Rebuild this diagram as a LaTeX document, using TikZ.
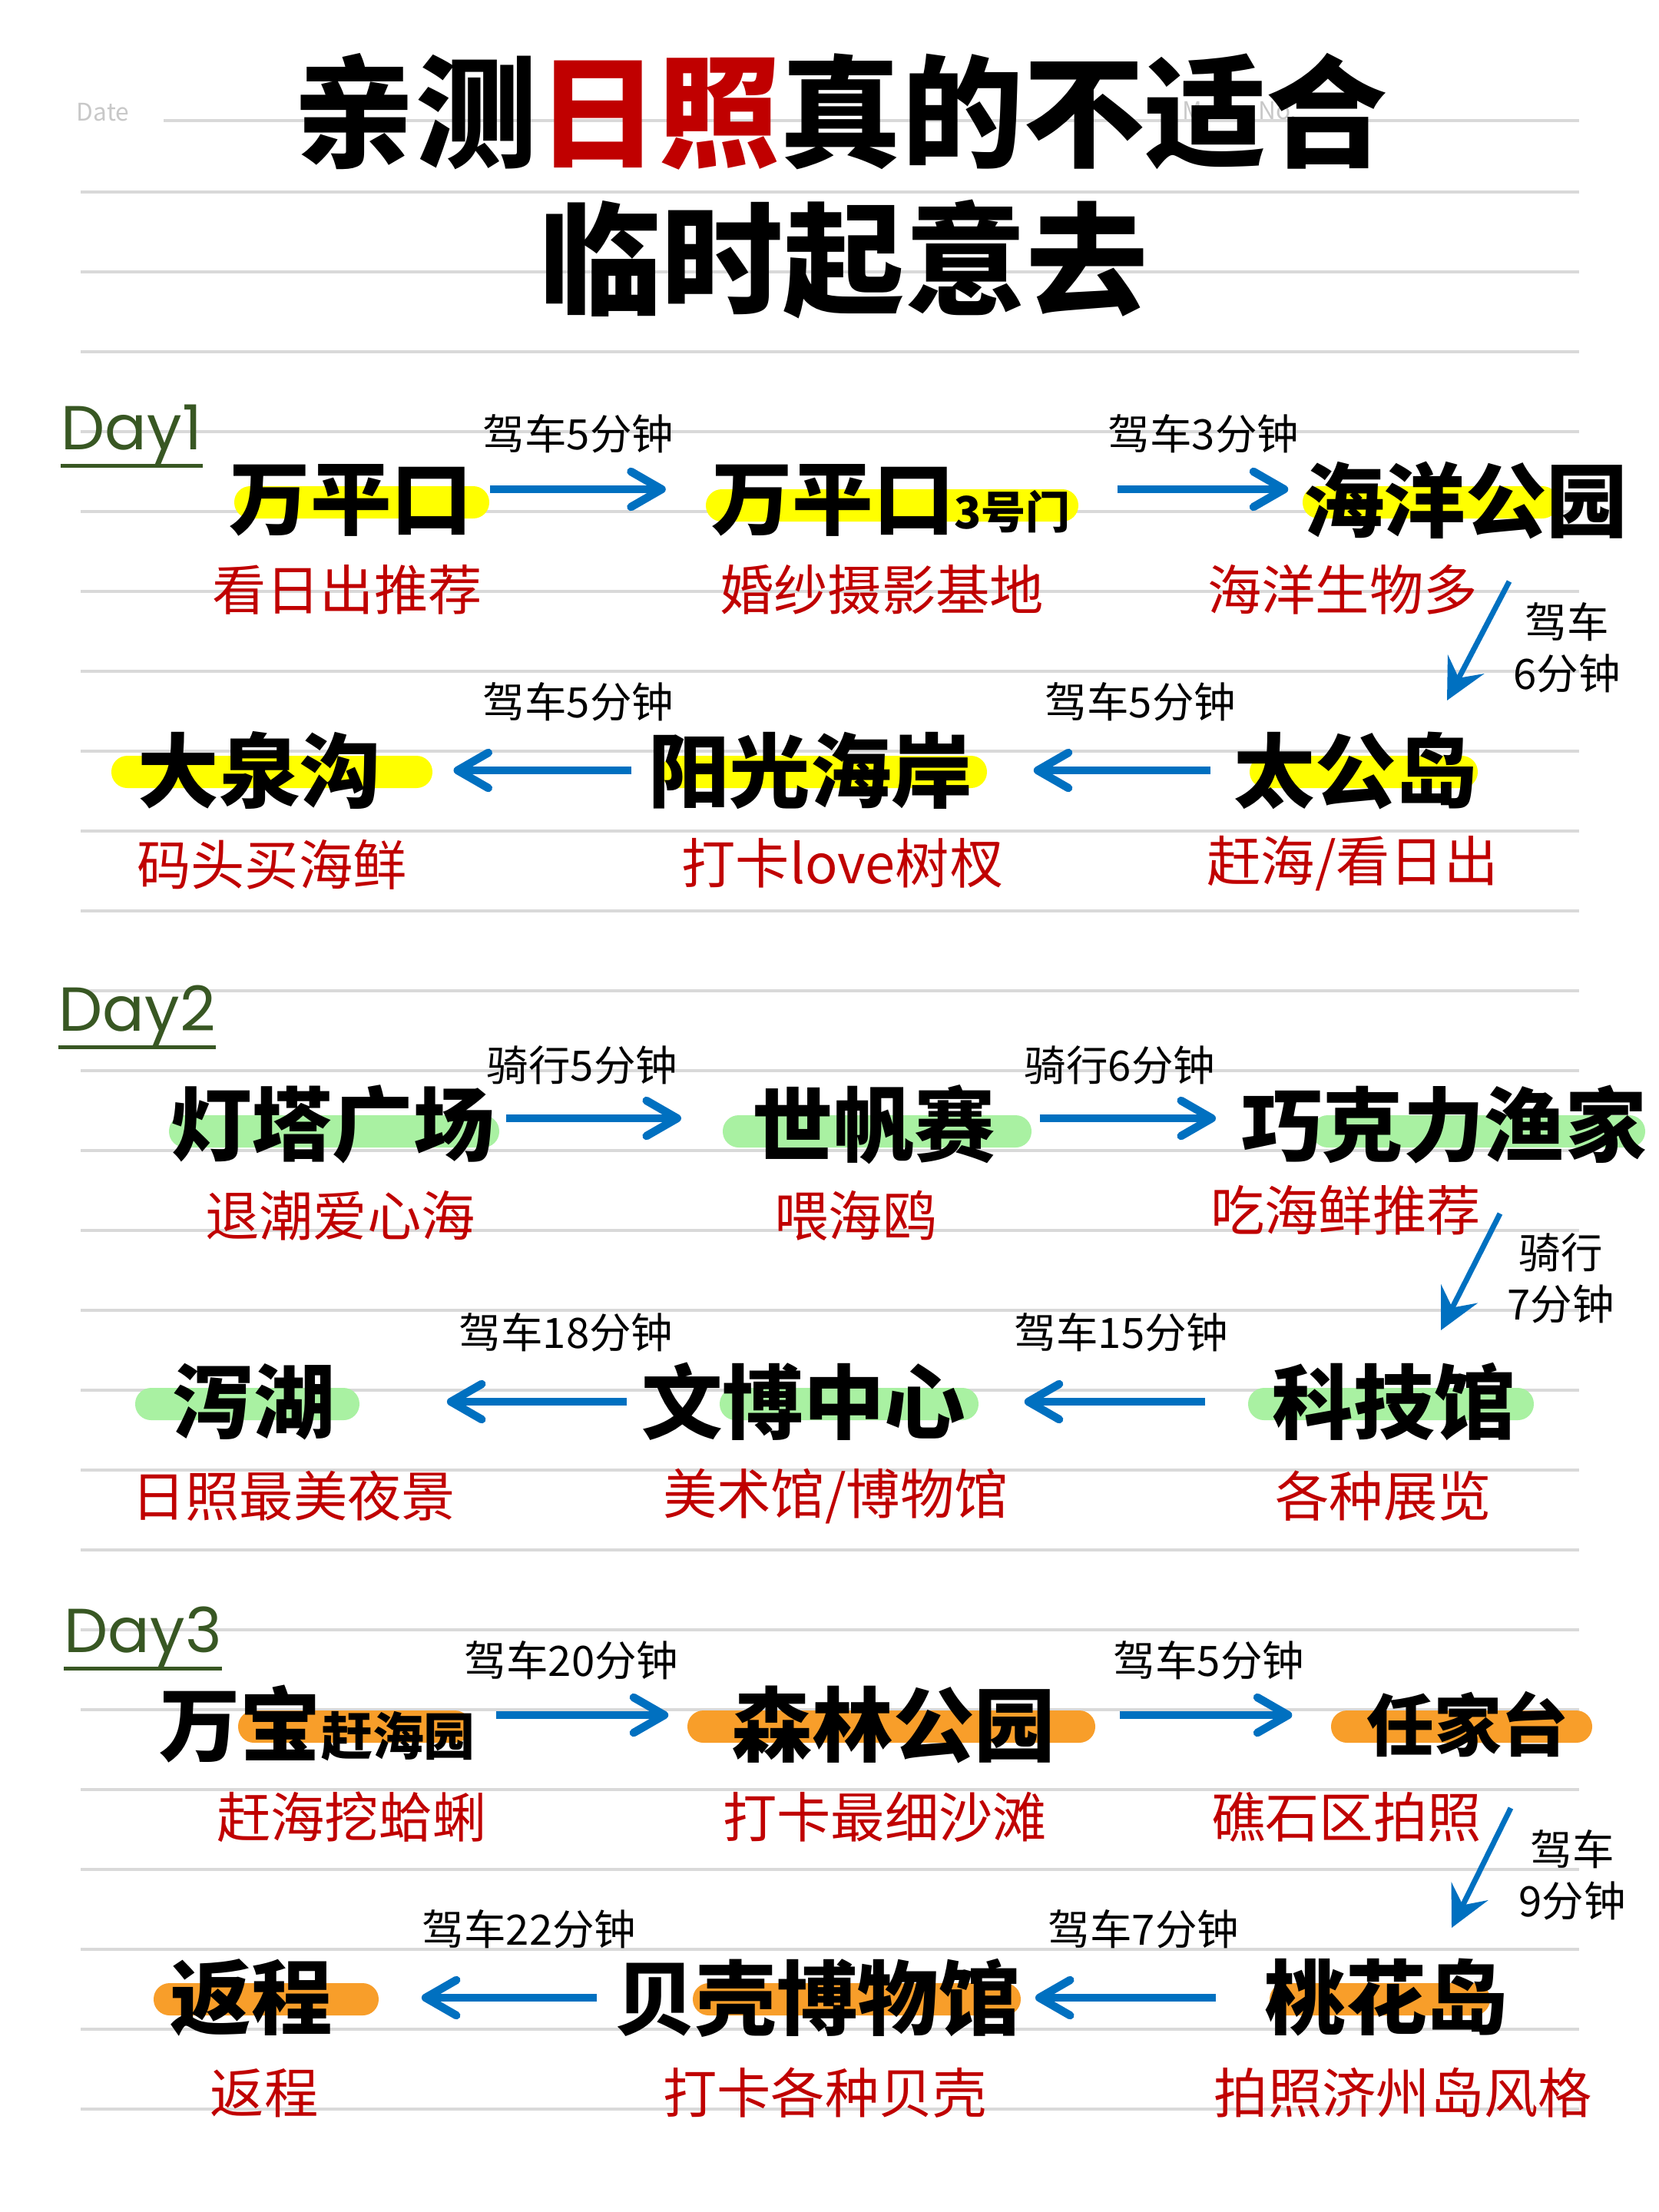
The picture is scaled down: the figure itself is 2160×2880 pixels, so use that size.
\documentclass[tikz,border=0pt]{standalone}
\usepackage{fontspec}
\setmainfont{Noto Sans CJK SC}
\newfontfamily\dayfont{Poppins}
\usetikzlibrary{arrows.meta}

\definecolor{arrowblue}{HTML}{0070C0}
\definecolor{notered}{HTML}{C00000}
\definecolor{daygreen}{HTML}{385723}
\definecolor{hlyellow}{HTML}{FFFF00}
\definecolor{hlgreen}{HTML}{A9F1A2}
\definecolor{hlorange}{HTML}{F89E2A}
\definecolor{ruleline}{HTML}{D9D9D9}
\definecolor{memogray}{HTML}{C8C8C8}

\begin{document}
\begin{tikzpicture}[
  x=0.01cm, y=-0.01cm,
  every node/.style={inner sep=0pt},
  title/.style={font=\bfseries\fontsize{45}{45}\selectfont},
  place/.style={font=\bfseries\fontsize{30}{30}\selectfont},
  note/.style={text=notered, font=\fontsize{20}{20}\selectfont},
  ride/.style={font=\fontsize{15.5}{15.5}\selectfont},
  ridetwo/.style={align=center, font=\fontsize{15.5}{19}\selectfont},
  dayhd/.style={text=daygreen, font=\dayfont\fontsize{23}{23}\selectfont},
  dayline/.style={draw=daygreen, line width=1.2pt},
  memo/.style={text=memogray, font=\fontsize{9}{9}\selectfont},
  rule/.style={draw=ruleline, line width=0.9pt},
  pill/.style={rounded corners=5.9pt},
  go/.style={draw=arrowblue, line width=3pt, -{Straight Barb[length=4mm, width=4.6mm, round]}},
  down/.style={draw=arrowblue, line width=2pt, -{Stealth[length=5.3mm, width=5.3mm, inset=2mm]}}
  ]

\fill[white] (0,0) rectangle (2160,2880);
\useasboundingbox (0,0) rectangle (2160,2880);

\draw[rule] (213,157) -- (2056,157);
\foreach \k in {0,...,24}
  \draw[rule] (105,{250+104*\k}) -- (2056,{250+104*\k});

\node[memo] (date) at (134,146) {Date};
\node[memo] (memono) at (1614,144) {Memo No.};

\node[title] (head1) at (1095,145) {亲测\textcolor{notered}{日照}真的不适合};
\node[title] (head2) at (1099,338) {临时起意去};

% Day1
\node[dayhd, anchor=base west] (day1) at (79,585) {Day1};
\draw[dayline] (day1.south west) -- (day1.south east);

\fill[hlyellow, pill] (305,633) rectangle (637,675);
\fill[hlyellow, pill] (919,637) rectangle (1404,679);
\fill[hlyellow, pill] (1696,633) rectangle (2029,675);
\fill[hlyellow, pill] (145,984) rectangle (563,1026);
\fill[hlyellow, pill] (861,984) rectangle (1285,1026);
\fill[hlyellow, pill] (1627,984) rectangle (1924,1026);

\node[place] (wpk) at (457,651) {万平口};
\node[place] (wpkm) at (1160,651) {万平口{\fontsize{16.5}{16.5}\selectfont 3号门}};
\node[place] (hygy) at (1908,651) {海洋公园};
\node[place] (tgd) at (1765,1003) {太公岛};
\node[place] (ygha) at (1055,1003) {阳光海岸};
\node[place] (dqg) at (338,1003) {大泉沟};

\node[note] (wpkn) at (452,768) {看日出推荐};
\node[note] (wpkmn) at (1148,768) {婚纱摄影基地};
\node[note] (hygyn) at (1748,768) {海洋生物多};
\node[note] (dqgn) at (354,1126) {码头买海鲜};
\node[note] (yghan) at (1097,1124) {打卡love树杈};
\node[note] (tgdn) at (1761,1124) {赶海/看日出};

\node[ride] (go11) at (753,565) {驾车5分钟};
\node[ride] (go12) at (1567,565) {驾车3分钟};
\node[ride] (go14) at (1485,914) {驾车5分钟};
\node[ride] (go15) at (753,914) {驾车5分钟};
\node[ridetwo] (go13) at (2040,843) {驾车\\6分钟};

\draw[go, shorten <=0.225cm, shorten >=0.585cm] ([yshift=0.14cm]wpk.east) -- ([yshift=0.14cm]wpkm.west);
\draw[go, shorten <=0.6cm, shorten >=0.19cm] ([yshift=0.14cm]wpkm.east) -- ([yshift=0.14cm]hygy.west);
\coordinate (turn1a) at (1965,757);
\coordinate (turn1b) at (1884,912);
\draw[down] (turn1a) -- (turn1b);
\draw[go, shorten <=0.305cm, shorten >=0.79cm] (tgd.west) -- (ygha.east);
\draw[go, shorten <=0.21cm, shorten >=0.935cm] (ygha.west) -- (dqg.east);

% Day2
\node[dayhd, anchor=base west] (day2) at (76,1342) {Day2};
\draw[dayline] (day2.south west) -- (day2.south east);

\fill[hlgreen, pill] (220,1452) rectangle (650,1494);
\fill[hlgreen, pill] (941,1452) rectangle (1343,1494);
\fill[hlgreen, pill] (1708,1452) rectangle (2142,1494);
\fill[hlgreen, pill] (176,1807) rectangle (468,1849);
\fill[hlgreen, pill] (937,1807) rectangle (1274,1849);
\fill[hlgreen, pill] (1625,1807) rectangle (1997,1849);

\node[place] (dtgc) at (433,1464) {灯塔广场};
\node[place] (sfs) at (1138,1464) {世帆赛};
\node[place] (qkl) at (1880,1464) {巧克力渔家};
\node[place] (kjg) at (1815,1825) {科技馆};
\node[place] (wbzx) at (1046,1825) {文博中心};
\node[place] (xh) at (330,1825) {泻湖};

\node[note] (dtgcn) at (443,1583) {退潮爱心海};
\node[note] (sfsn) at (1114,1583) {喂海鸥};
\node[note] (qkln) at (1752,1576) {吃海鲜推荐};
\node[note] (xhn) at (382,1948) {日照最美夜景};
\node[note] (wbzxn) at (1088,1948) {美术馆/博物馆};
\node[note] (kjgn) at (1801,1948) {各种展览};

\node[ride] (go21) at (758,1387) {骑行5分钟};
\node[ride] (go22) at (1458,1387) {骑行6分钟};
\node[ride] (go24) at (1460,1735) {驾车15分钟};
\node[ride] (go25) at (737,1735) {驾车18分钟};
\node[ridetwo] (go23) at (2032,1664) {骑行\\7分钟};

\draw[go, shorten <=0.14cm, shorten >=0.92cm] ([yshift=0.08cm]dtgc.east) -- ([yshift=0.08cm]sfs.west);
\draw[go, shorten <=0.57cm, shorten >=0.325cm] ([yshift=0.08cm]sfs.east) -- ([yshift=0.08cm]qkl.west);
\coordinate (turn2a) at (1953,1580);
\coordinate (turn2b) at (1876,1732);
\draw[down] (turn2a) -- (turn2b);
\draw[go, shorten <=0.87cm, shorten >=0.76cm] (kjg.west) -- (wbzx.east);
\draw[go, shorten <=0.18cm, shorten >=1.456cm] (wbzx.west) -- (xh.east);

% Day3
\node[dayhd, anchor=base west] (day3) at (83,2151) {Day3};
\draw[dayline] (day3.south west) -- (day3.south east);

\fill[hlorange, pill] (310,2227) rectangle (613,2269);
\fill[hlorange, pill] (895,2227) rectangle (1426,2269);
\fill[hlorange, pill] (1733,2227) rectangle (2073,2269);
\fill[hlorange, pill] (200,2582) rectangle (493,2624);
\fill[hlorange, pill] (902,2582) rectangle (1329,2624);
\fill[hlorange, pill] (1653,2582) rectangle (1940,2624);

\node[place] (wbgh) at (413,2245) {万宝{\fontsize{19}{19}\selectfont 赶海园}};
\node[place] (slgy) at (1163,2245) {森林公园};
\node[place, font=\bfseries\fontsize{25}{25}\selectfont] (rjt) at (1911,2245) {任家台};
\node[place] (thd) at (1805,2601) {桃花岛};
\node[place] (bkbw) at (1064,2601) {贝壳博物馆};
\node[place] (fc) at (327,2601) {返程};

\node[note] (wbghn) at (458,2366) {赶海挖蛤蜊};
\node[note] (slgyn) at (1152,2366) {打卡最细沙滩};
\node[note] (rjtn) at (1753,2366) {礁石区拍照};
\node[note] (fcn) at (344,2725) {返程};
\node[note] (bkbwn) at (1074,2725) {打卡各种贝壳};
\node[note] (thdn) at (1827,2725) {拍照济州岛风格};

\node[ride] (go31) at (744,2162) {驾车20分钟};
\node[ride] (go32) at (1574,2162) {驾车5分钟};
\node[ride] (go34) at (1489,2512) {驾车7分钟};
\node[ride] (go35) at (689,2512) {驾车22分钟};
\node[ridetwo] (go33) at (2047,2441) {驾车\\9分钟};

\draw[go, shorten <=0.265cm, shorten >=0.81cm] ([yshift=0.12cm]wbgh.east) -- ([yshift=0.12cm]slgy.west);
\draw[go, shorten <=0.83cm, shorten >=0.96cm] ([yshift=0.12cm]slgy.east) -- ([yshift=0.12cm]rjt.west);
\coordinate (turn3a) at (1967,2354);
\coordinate (turn3b) at (1890,2510);
\draw[down] (turn3a) -- (turn3b);
\draw[go, shorten <=0.63cm, shorten >=0.195cm] (thd.west) -- (bkbw.east);
\draw[go, shorten <=0.225cm, shorten >=1.156cm] (bkbw.west) -- (fc.east);

\end{tikzpicture}
\end{document}
